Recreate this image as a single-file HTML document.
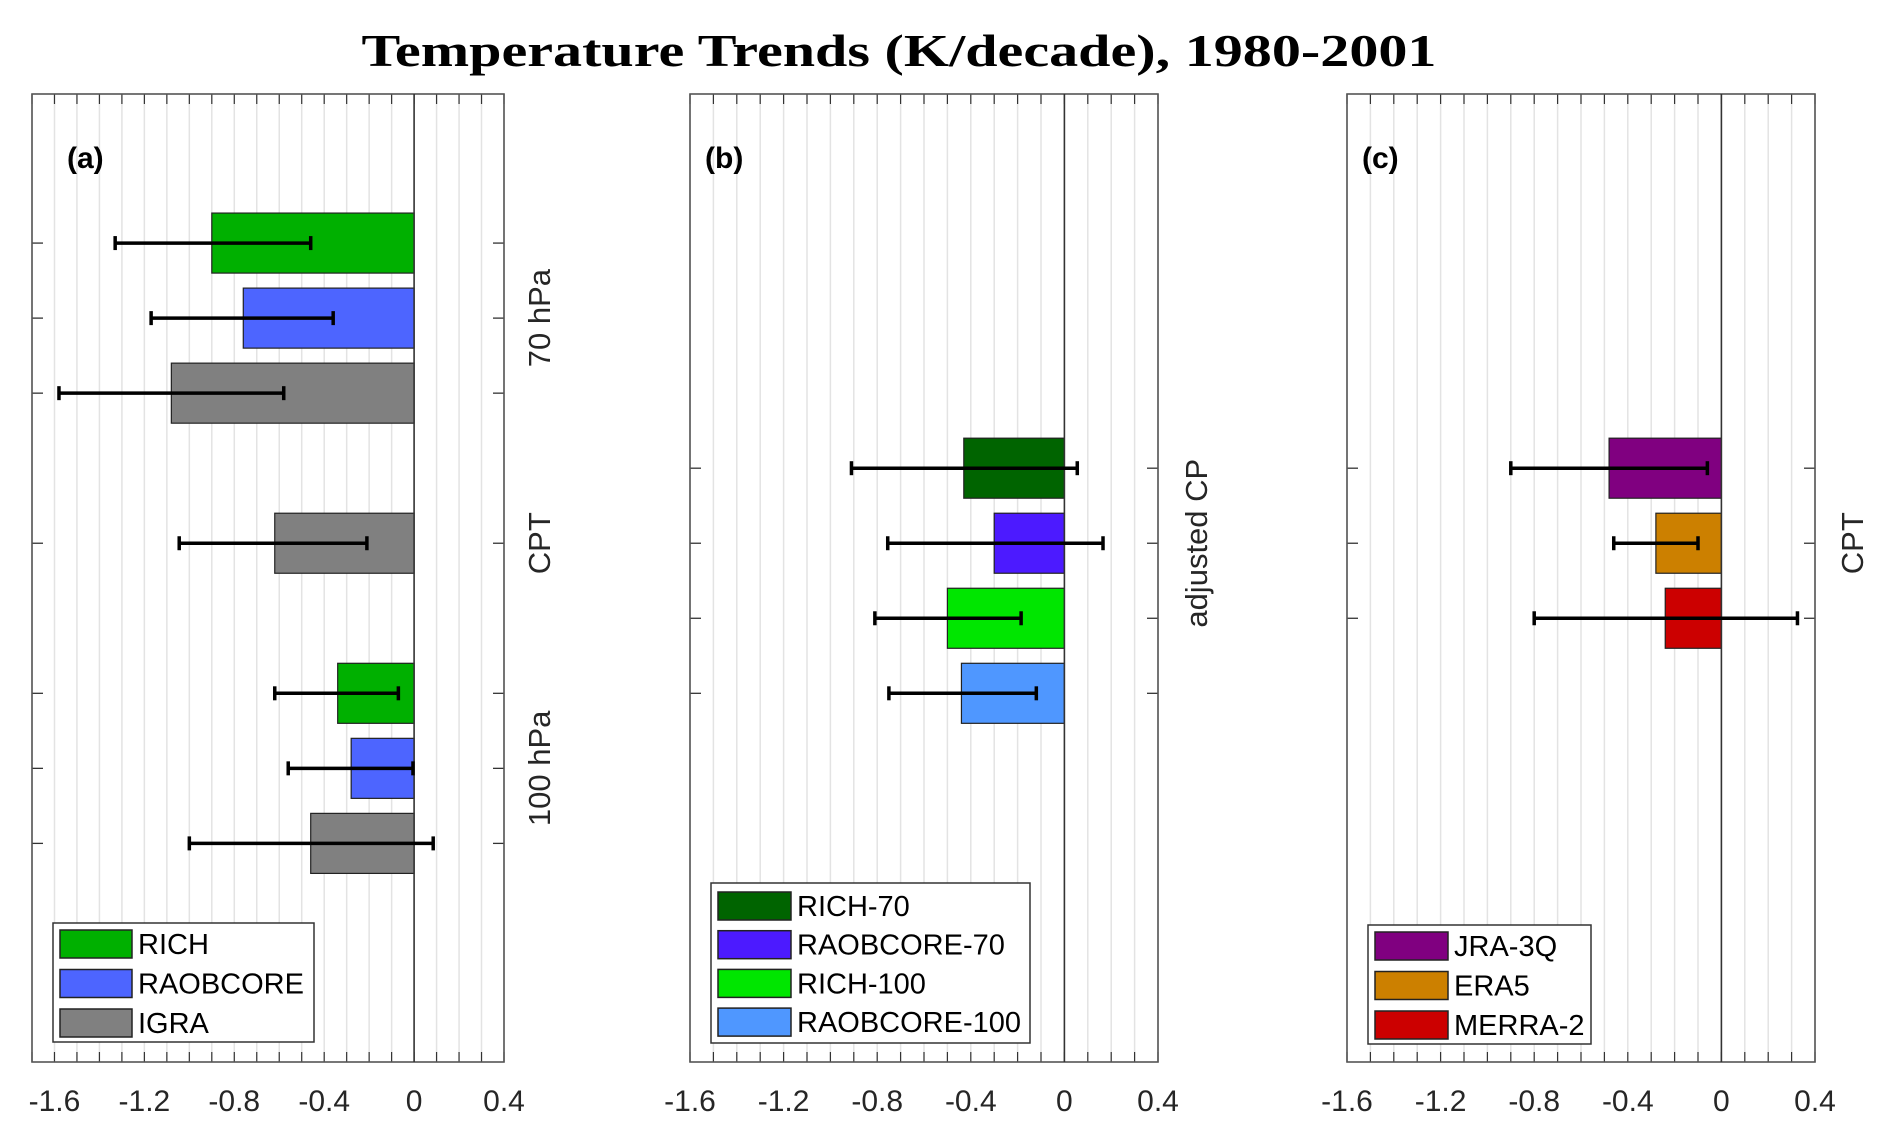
<!DOCTYPE html>
<html><head><meta charset="utf-8"><title>Temperature Trends</title>
<style>html,body{margin:0;padding:0;background:#fff;}svg{display:block;}</style></head>
<body>
<svg id="chart" xmlns="http://www.w3.org/2000/svg" width="1892" height="1139" viewBox="0 0 1892 1139">
<rect x="0" y="0" width="1892" height="1139" fill="#fff"/>
<text x="899" y="66" text-anchor="middle" font-family="Liberation Serif, serif" font-weight="bold" font-size="46" textLength="1075" lengthAdjust="spacingAndGlyphs" fill="#000">Temperature Trends (K/decade), 1980-2001</text>
</svg>
<script>
// ---- data ----
const panelALabels = ["RICH 70", "RAOBCORE 70", "IGRA 70", "IGRA CPT", "RICH 100", "RAOBCORE 100", "IGRA 100"];
const panelASlots = [0, 1, 2, 4, 6, 7, 8];
const panelAValues = [-0.90, -0.76, -1.08, -0.62, -0.34, -0.28, -0.46];
const panelALow = [-1.33, -1.17, -1.58, -1.045, -0.62, -0.56, -1.00];
const panelAHigh = [-0.46, -0.36, -0.58, -0.21, -0.07, -0.005, 0.085];
const panelAColors = ["#00b000", "#4d65ff", "#808080", "#808080", "#00b000", "#4d65ff", "#808080"];

const panelBLabels = ["RICH-70", "RAOBCORE-70", "RICH-100", "RAOBCORE-100"];
const panelBSlots = [3, 4, 5, 6];
const panelBValues = [-0.43, -0.30, -0.50, -0.44];
const panelBLow = [-0.91, -0.755, -0.81, -0.75];
const panelBHigh = [0.055, 0.165, -0.185, -0.12];
const panelBColors = ["#006400", "#4c1aff", "#00e600", "#4f97ff"];

const panelCLabels = ["JRA-3Q", "ERA5", "MERRA-2"];
const panelCSlots = [3, 4, 5];
const panelCValues = [-0.48, -0.28, -0.24];
const panelCLow = [-0.90, -0.46, -0.80];
const panelCHigh = [-0.06, -0.10, 0.325];
const panelCColors = ["#800080", "#cc8000", "#cc0000"];

const xTickValues = [-1.6, -1.2, -0.8, -0.4, 0, 0.4];
const xTickLabels = ["-1.6", "-1.2", "-0.8", "-0.4", "0", "0.4"];

const legendALabels = ["RICH", "RAOBCORE", "IGRA"];
const legendAColors = ["#00b000", "#4d65ff", "#808080"];

// ---- drawing ----
const NS = "http://www.w3.org/2000/svg";
const svg = document.getElementById("chart");
const TOP = 94, BOT = 1062, UNIT = (BOT - TOP) / 12.9;
function yScale(slot) { return TOP + UNIT * (slot + 2) - 1; }
function mk(tag, attrs, parent) {
  const e = document.createElementNS(NS, tag);
  for (const k in attrs) e.setAttribute(k, attrs[k]);
  (parent || svg).appendChild(e);
  return e;
}

function drawPanel(id, left, right, xmin, xmax, slots, vals, lo, hi, colors, labels, tag, tagX, sideLabels, legend) {
  const g = mk("g", {});
  
  
  const xs = v => left + (v - xmin) / (xmax - xmin) * (right - left);
  for (let i = Math.ceil(xmin * 10 - 1e-6); i <= Math.floor(xmax * 10 + 1e-6); i++) {
    const v = i / 10, x = xs(v);
    if (i !== 0) {
      const gl = mk("line", {x1: x, x2: x, y1: TOP, y2: BOT, stroke: "#e3e3e3", "stroke-width": 1.5}, g);
      
      
    }
    mk("line", {x1: x, x2: x, y1: TOP, y2: TOP + 10, stroke: "#333", "stroke-width": 1.2}, g);
    mk("line", {x1: x, x2: x, y1: BOT, y2: BOT - 10, stroke: "#333", "stroke-width": 1.2}, g);
  }
  slots.forEach(s => {
    const y = yScale(s);
    mk("line", {x1: left, x2: left + 11, y1: y, y2: y, stroke: "#333", "stroke-width": 1.3}, g);
    mk("line", {x1: right, x2: right - 11, y1: y, y2: y, stroke: "#333", "stroke-width": 1.3}, g);
  });
  const fr = mk("rect", {x: left, y: TOP, width: right - left, height: BOT - TOP, fill: "none", stroke: "#555", "stroke-width": 1.6}, g);
  
  
  const bh = UNIT * 0.8;
  vals.forEach((v, i) => {
    const y = yScale(slots[i]);
    const x0 = xs(Math.min(0, v)), x1 = xs(Math.max(0, v));
    const r = mk("rect", {x: x0, y: y - bh / 2, width: x1 - x0, height: bh, fill: colors[i], stroke: "#222", "stroke-width": 1.2}, g);
    
    
  });
  mk("line", {x1: xs(0), x2: xs(0), y1: TOP, y2: BOT, stroke: "#333", "stroke-width": 1.6}, g);
  vals.forEach((v, i) => {
    const y = yScale(slots[i]);
    const eg = mk("g", {stroke: "#000", "stroke-width": 3.5}, g);
    
    
    mk("line", {x1: xs(lo[i]), x2: xs(hi[i]), y1: y, y2: y}, eg);
    mk("line", {x1: xs(lo[i]), x2: xs(lo[i]), y1: y - 7, y2: y + 7}, eg);
    mk("line", {x1: xs(hi[i]), x2: xs(hi[i]), y1: y - 7, y2: y + 7}, eg);
  });
  xTickValues.forEach((v, i) => {
    const t = mk("text", {x: xs(v), y: 1111, "text-anchor": "middle", "font-family": "Liberation Sans, sans-serif", "font-size": 30, fill: "#262626"}, g);
    t.textContent = xTickLabels[i];
    
    
  });
  const pt = mk("text", {x: tagX, y: 168, "font-family": "Liberation Sans, sans-serif", "font-weight": "bold", "font-size": 30, fill: "#000"}, g);
  pt.textContent = tag;
  
  
  sideLabels.forEach(sl => {
    const t = mk("text", {x: 0, y: 0, transform: "translate(" + sl[1] + "," + sl[2] + ") rotate(-90)", "text-anchor": "middle", "font-family": "Liberation Sans, sans-serif", "font-size": 31, fill: "#262626"}, g);
    t.textContent = sl[0];
    
    
  });
  const lg = mk("g", {}, g);
  
  
  mk("rect", {x: legend.x, y: legend.y, width: legend.w, height: legend.h, fill: "#fff", stroke: "#333", "stroke-width": 1.5}, lg);
  legend.labels.forEach((lab, i) => {
    const cy = legend.y0 + i * legend.dy;
    const e = mk("g", {}, lg);
    
    
    mk("rect", {x: legend.x + 7, y: cy - 14, width: legend.sw, height: 28, fill: legend.colors[i], stroke: "#222", "stroke-width": 1.5}, e);
    const t = mk("text", {x: legend.x + 13 + legend.sw, y: cy + 10, "font-family": "Liberation Sans, sans-serif", "font-size": 29, fill: "#000"}, e);
    t.textContent = lab;
  });
}

drawPanel("a", 32, 504, -1.7, 0.4, panelASlots, panelAValues, panelALow, panelAHigh, panelAColors, panelALabels, "(a)", 67,
  [["70 hPa", 550, yScale(1)], ["CPT", 550, yScale(4)], ["100 hPa", 550, yScale(7)]],
  {x: 53, y: 923, w: 261, h: 119, y0: 944, dy: 39.5, sw: 72, labels: legendALabels, colors: legendAColors});
drawPanel("b", 690, 1158, -1.6, 0.4, panelBSlots, panelBValues, panelBLow, panelBHigh, panelBColors, panelBLabels, "(b)", 705,
  [["adjusted CP", 1207, yScale(4)]],
  {x: 711, y: 883, w: 319, h: 160, y0: 906, dy: 38.7, sw: 73, labels: panelBLabels, colors: panelBColors});
drawPanel("c", 1347, 1815, -1.6, 0.4, panelCSlots, panelCValues, panelCLow, panelCHigh, panelCColors, panelCLabels, "(c)", 1362,
  [["CPT", 1863, yScale(4)]],
  {x: 1368, y: 925, w: 223, h: 119, y0: 946, dy: 39.5, sw: 73, labels: panelCLabels, colors: panelCColors});
</script>
</body></html>
